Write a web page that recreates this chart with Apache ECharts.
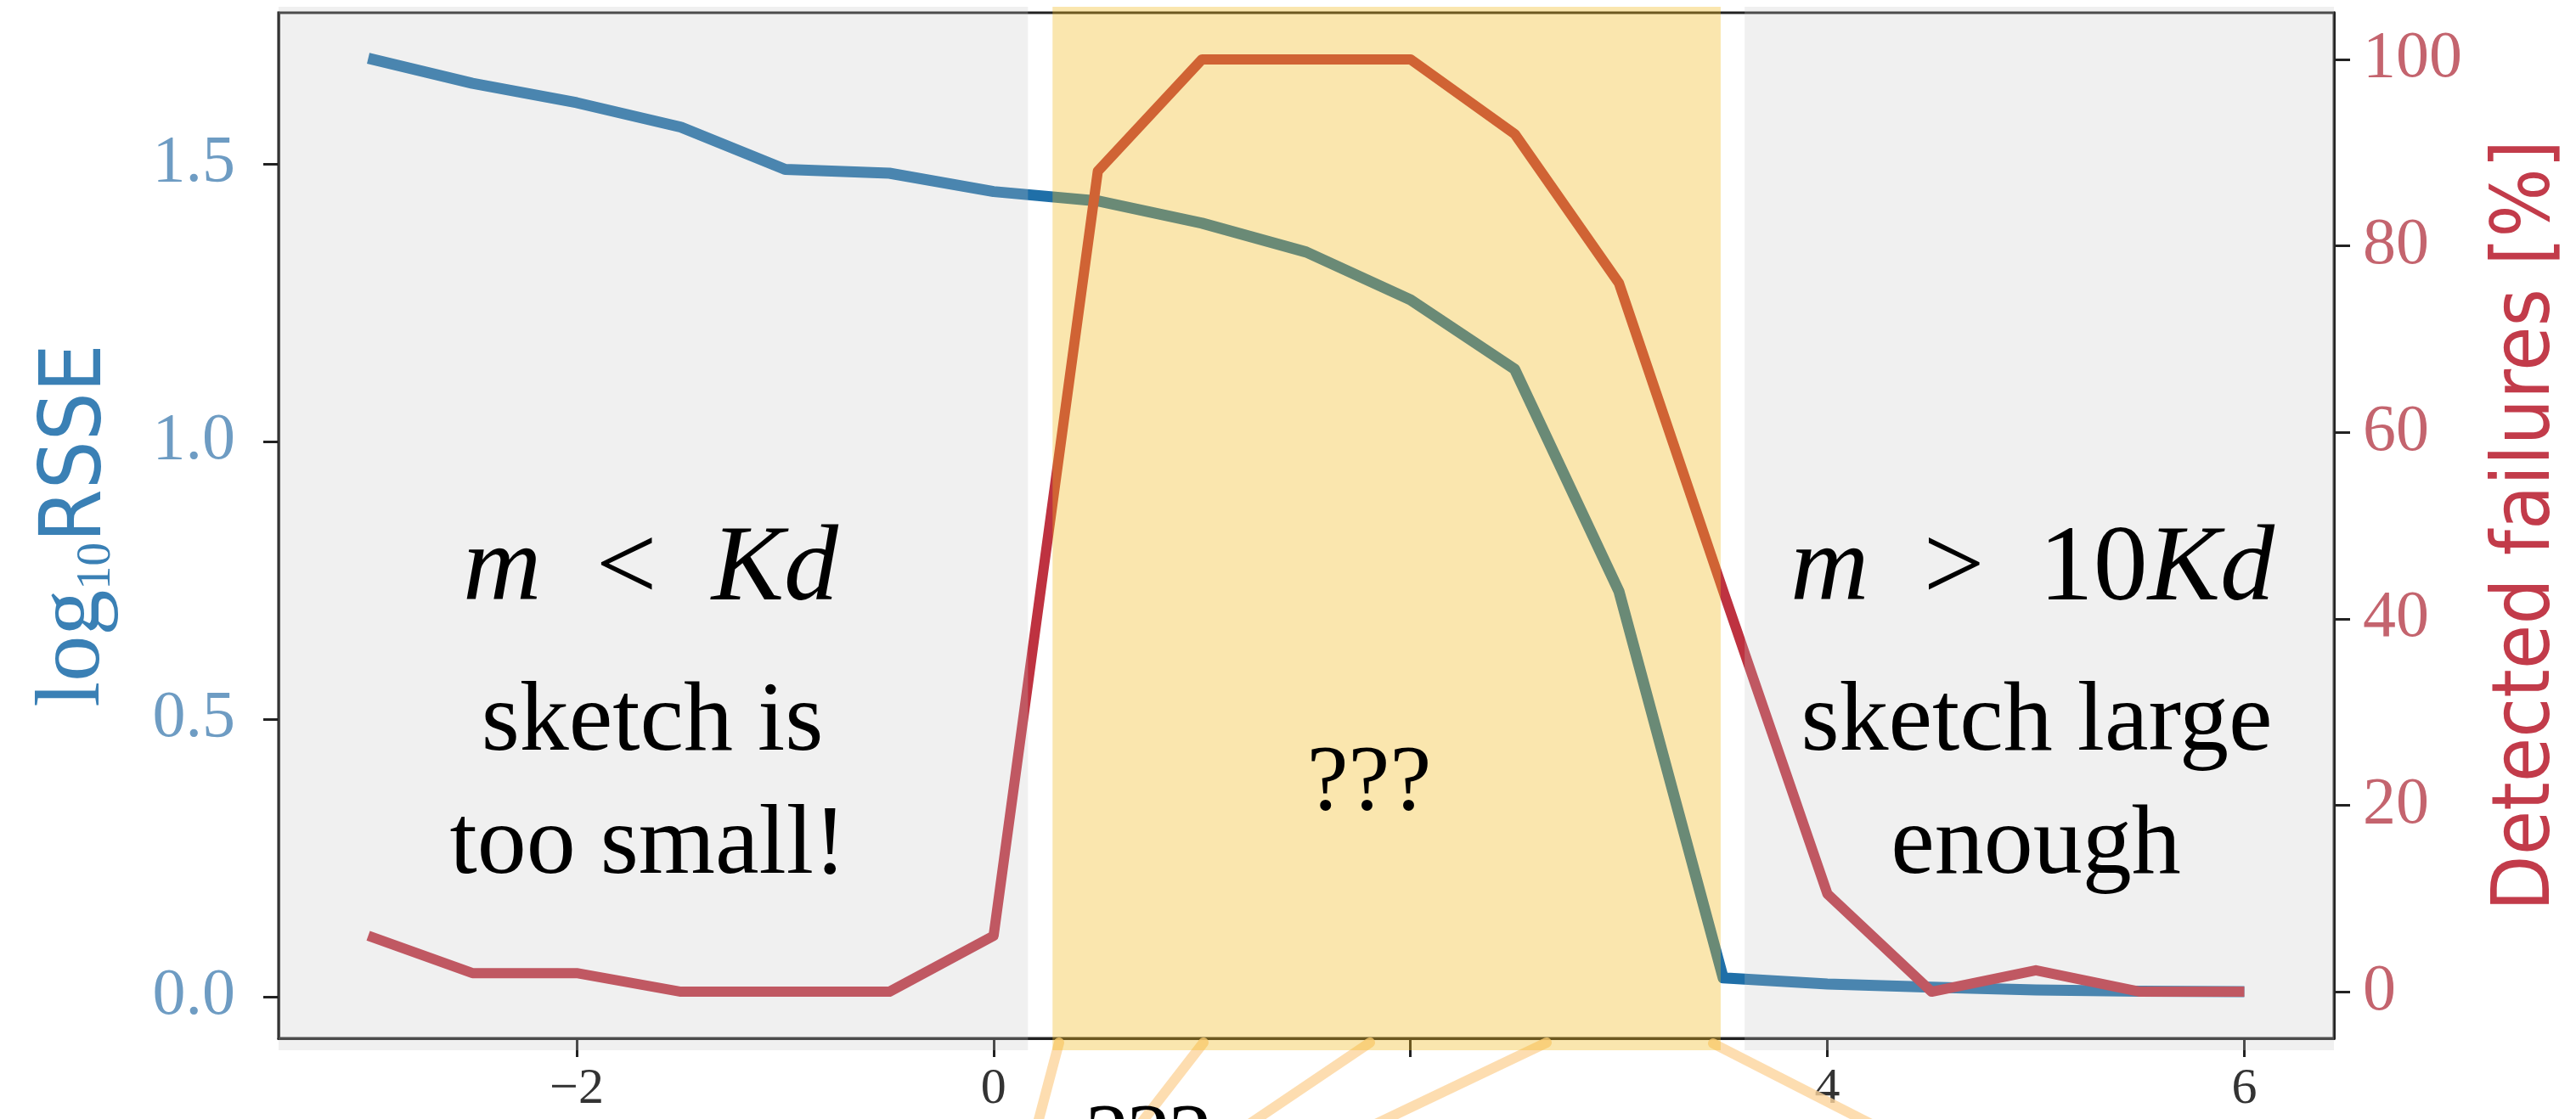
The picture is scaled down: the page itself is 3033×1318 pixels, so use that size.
<!DOCTYPE html>
<html>
<head>
<meta charset="utf-8">
<script src="https://cdn.jsdelivr.net/npm/echarts@6/dist/echarts.min.js"></script>
<style>
  html, body { margin: 0; padding: 0; background: #ffffff; }
  #chart { width: 3033px; height: 1318px; }
</style>
</head>
<body>
<div id="chart"></div>
<script>
// log2 sketch-size offset on the x axis
const xValues = [-3, -2.5, -2, -1.5, -1, -0.5, 0, 0.5, 1, 1.5, 2, 2.5, 3, 3.5, 4, 4.5, 5, 5.5, 6];
// log10 of the relative sum of squared errors
const log10Rsse = [1.69, 1.645, 1.61, 1.566, 1.49, 1.483, 1.45, 1.433, 1.393, 1.341, 1.255, 1.13, 0.73, 0.034, 0.023, 0.017, 0.012, 0.01, 0.009];
// share of detected failures, in percent
const detectedFailures = [6, 2, 2, 0, 0, 0, 6, 88, 100, 100, 100, 92, 76, 43, 10.5, 0, 2.3, 0, 0];

const xTickValues = [-2, 0, 2, 4, 6];
const xLabelValues = [-2, 0, 4, 6];
const rsseTickValues = [0, 0.5, 1.0, 1.5];
const failureTickValues = [0, 20, 40, 60, 80, 100];

// regions of the x axis: sketch too small / uncertain / large enough
const smallRegion = [-3.43, 0.165];
const unsureRegion = [0.283, 3.488];
const largeRegion = [3.603, 6.43];

const SERIF = "'Liberation Serif', 'DejaVu Serif', serif";
const SANS = "'DejaVu Sans Condensed', 'DejaVu Sans', sans-serif";

const chart = echarts.init(document.getElementById('chart'), null, { renderer: 'canvas', width: 3033, height: 1318 });

const grid = { left: 328, top: 15, width: 2420, height: 1208 };
const frameColor = '#222222';

chart.setOption({
  animation: false,
  backgroundColor: '#ffffff',
  grid: {
    left: grid.left, top: grid.top, width: grid.width, height: grid.height,
    show: true, backgroundColor: '#ffffff', borderColor: frameColor, borderWidth: 3
  },
  xAxis: {
    type: 'value', min: -3.43, max: 6.43,
    axisLine: { show: true, onZero: false, lineStyle: { color: frameColor, width: 3 } },
    axisTick: { show: true, customValues: xTickValues, length: 22, lineStyle: { color: frameColor, width: 3 } },
    axisLabel: {
      customValues: xLabelValues, margin: 30, color: '#333333', fontFamily: SERIF, fontSize: 60,
      formatter: v => (v < 0 ? '\u2212' + Math.abs(v) : String(v))
    },
    splitLine: { show: false }
  },
  yAxis: [
    {
      type: 'value', position: 'left', min: -0.075, max: 1.772,
      axisLine: { show: true, onZero: false, lineStyle: { color: frameColor, width: 3 } },
      axisTick: { show: true, customValues: rsseTickValues, length: 18, lineStyle: { color: frameColor, width: 3 } },
      axisLabel: {
        customValues: rsseTickValues, margin: 51, color: '#6e9cc3', fontFamily: SERIF, fontSize: 78,
        formatter: v => v.toFixed(1)
      },
      splitLine: { show: false },
      name: '{a|log}{b|10}{c|RSSE}',
      nameLocation: 'middle', nameRotate: 90, nameGap: 186,
      nameTextStyle: {
        rich: {
          a: { fontFamily: SERIF, fontSize: 108, color: '#3a80b5', verticalAlign: 'bottom', lineHeight: 110 },
          b: { fontFamily: SERIF, fontSize: 56, color: '#3a80b5', verticalAlign: 'bottom', lineHeight: 56 },
          c: { fontFamily: SANS, fontSize: 100, color: '#3a80b5', verticalAlign: 'bottom', lineHeight: 110 }
        }
      }
    },
    {
      type: 'value', position: 'right', min: -5, max: 105,
      axisLine: { show: true, onZero: false, lineStyle: { color: frameColor, width: 3 } },
      axisTick: { show: true, customValues: failureTickValues, length: 19, lineStyle: { color: frameColor, width: 3 } },
      axisLabel: {
        customValues: failureTickValues, margin: 34, color: '#c4646e', fontFamily: SERIF, fontSize: 78
      },
      splitLine: { show: false },
      name: 'Detected failures [%]',
      nameLocation: 'middle', nameRotate: 90, nameGap: 181,
      nameTextStyle: { fontFamily: SANS, fontSize: 95, color: '#c23b4a' }
    }
  ],
  series: [
    {
      type: 'line', yAxisIndex: 0, showSymbol: false, z: 3,
      data: xValues.map((x, i) => [x, log10Rsse[i]]),
      lineStyle: { color: '#1f6fa8', width: 13, join: 'round', cap: 'butt' }
    },
    {
      type: 'line', yAxisIndex: 1, showSymbol: false, z: 4,
      data: xValues.map((x, i) => [x, detectedFailures[i]]),
      lineStyle: { color: '#be3240', width: 12, join: 'round', cap: 'butt' }
    }
  ]
});

// translucent region panels laid over the plot, plus labels and zoom-fan strokes
const px = v => chart.convertToPixel({ xAxisIndex: 0 }, v);
const panelTop = grid.top - 7;
const panelBottom = grid.top + grid.height + 14;

function panel(range, fill) {
  const x0 = px(range[0]);
  const x1 = px(range[1]);
  return {
    type: 'rect', silent: true, z: 50,
    shape: { x: x0, y: panelTop, width: x1 - x0, height: panelBottom - panelTop },
    style: { fill: fill }
  };
}

function label(text, x, y, size, rich) {
  const style = {
    text: text, x: x, y: y, align: 'center', verticalAlign: 'middle',
    fontFamily: SERIF, fontSize: size, fill: '#000000'
  };
  if (rich) style.rich = rich;
  return { type: 'text', silent: true, z: 60, style: style };
}

const mathRich = {
  i: { fontFamily: SERIF, fontStyle: 'italic', fontSize: 128, color: '#000000' },
  r: { fontFamily: SERIF, fontSize: 128, color: '#000000' }
};

const fanColor = '#fcd49c';
function fanStroke(x1, y1, x2, y2) {
  return {
    type: 'line', silent: true, z: 45,
    shape: { x1: x1, y1: y1, x2: x2, y2: y2 },
    style: { stroke: fanColor, lineWidth: 12, lineCap: 'round', opacity: 0.8 }
  };
}

const axisY = grid.top + grid.height;

chart.setOption({
  graphic: [
    fanStroke(1247, axisY + 5, 1220, 1330),
    fanStroke(1417, axisY + 5, 1338, 1330),
    fanStroke(1613, axisY + 5, 1462, 1330),
    fanStroke(1821, axisY + 5, 1607, 1330),
    fanStroke(2017, axisY + 6, 2215, 1330),
    panel(smallRegion, 'rgba(196,196,196,0.26)'),
    panel(unsureRegion, 'rgba(241,186,30,0.36)'),
    panel(largeRegion, 'rgba(196,196,196,0.26)'),
    label('{i|m}{r|  <  }{i|Kd}', 766, 672, 128, mathRich),
    label('sketch is', 768, 853, 116),
    label('too small!', 763, 998, 116),
    label('{i|m}{r|  >  10}{i|Kd}', 2393, 672, 128, mathRich),
    label('sketch large', 2398, 853, 116),
    label('enough', 2397, 998, 116),
    label('???', 1612, 924, 110),
    label('???', 1352, 1346, 110)
  ]
});
</script>
</body>
</html>
